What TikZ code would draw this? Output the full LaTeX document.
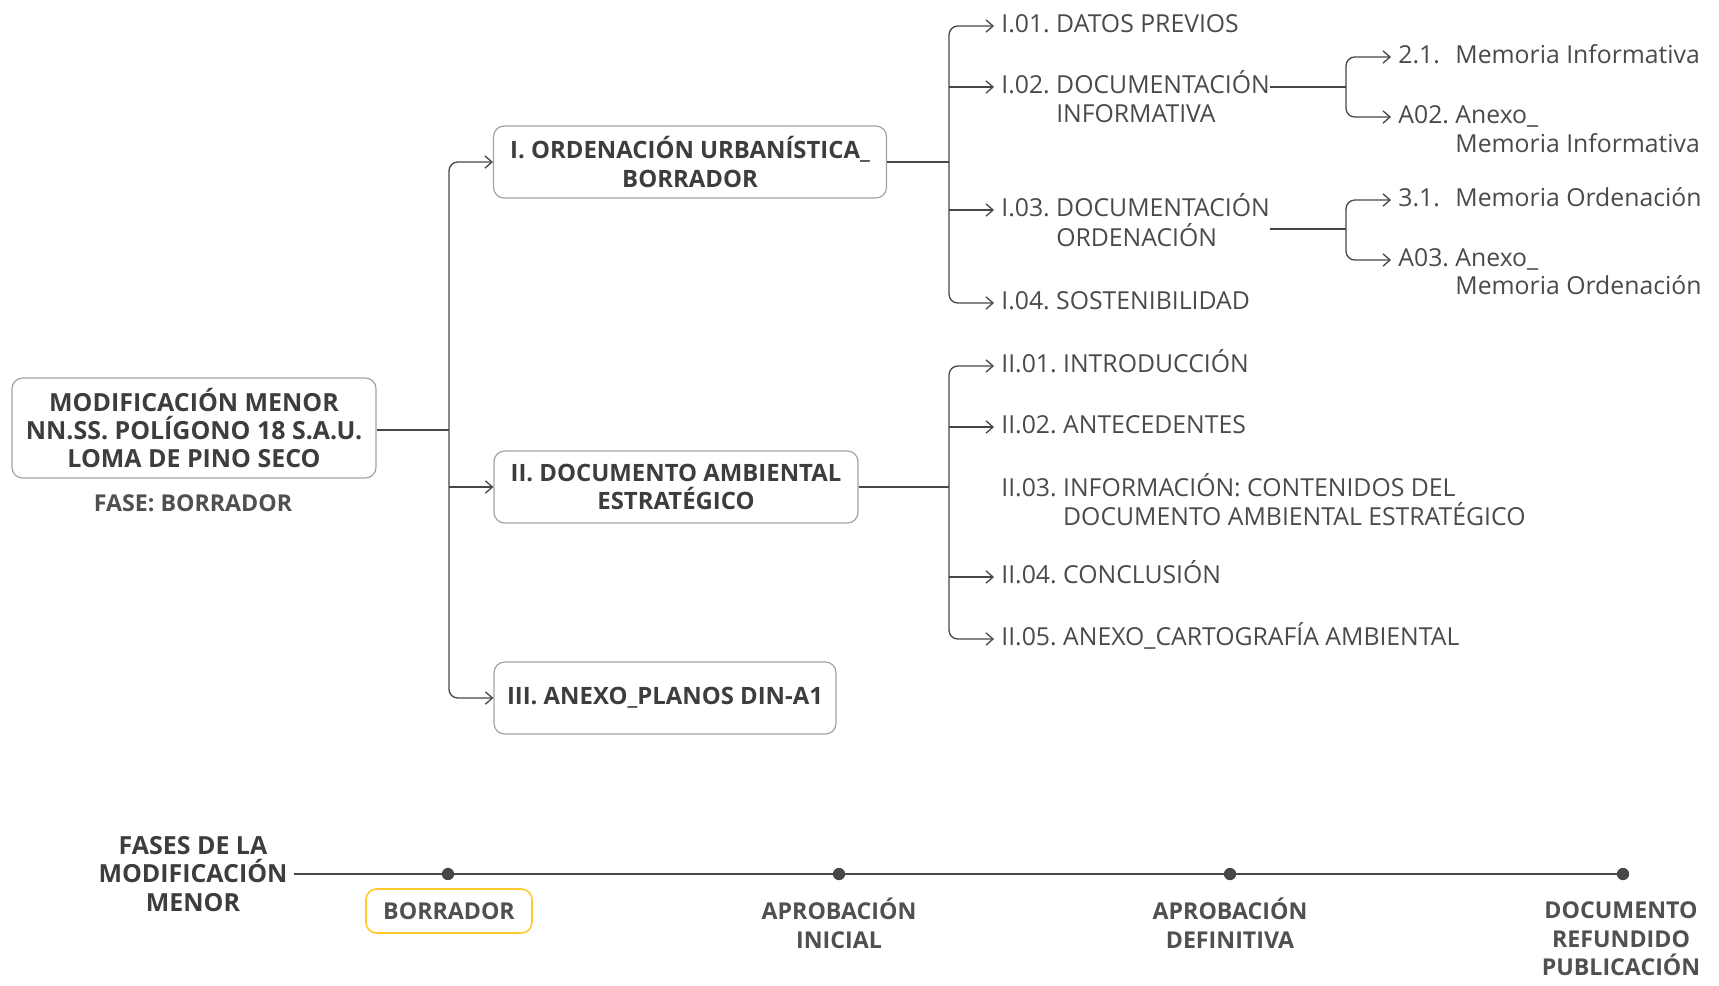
\documentclass[tikz,border=0pt]{standalone}
\usepackage{fontspec}
\setmainfont{Open Sans}
\usetikzlibrary{arrows.meta}
\frenchspacing

\definecolor{inkdark}{HTML}{3D3D3D}
\definecolor{inkleaf}{HTML}{4A4A4A}
\definecolor{wirecol}{HTML}{474747}
\definecolor{framecol}{HTML}{A3A3A3}
\definecolor{phasecol}{HTML}{FFC82C}

\tikzset{
    section box/.style={
        draw=framecol,line width=.7pt,rounded corners=6pt,
        align=center,text=inkdark,
        font=\bfseries\fontsize{13.6}{16}\selectfont,
        minimum height=1.44cm
    },
    leaf/.style={
        anchor=west,inner xsep=4pt,inner ysep=0pt,
        text height=1.33ex,text depth=0pt,
        text=inkleaf,font=\fontsize{14.1}{16}\selectfont
    },
    wire/.style={draw=wirecol,line width=.75pt},
    branch/.style={wire,-{Straight Barb[length=4pt,width=7pt]},rounded corners=5pt},
    milestone/.style={circle,fill=wirecol,inner sep=0pt,minimum size=7pt},
    stage label/.style={
        align=center,text=inkdark!90,
        font=\bfseries\fontsize{13.2}{16.3}\selectfont
    }
}

\begin{document}
\begin{tikzpicture}[x=0.02cm,y=-0.02cm]
    \useasboundingbox (0,0) rectangle (1719,985);

    % document and its three parts
    \node[section box,minimum width=7.28cm,minimum height=2cm,
        font=\bfseries\fontsize{14.2}{16}\selectfont] (root) at (194,428)
        {MODIFICACIÓN MENOR\\NN.SS. POLÍGONO 18 S.A.U.\\LOMA DE PINO SECO};
    \node[stage label] (fase) at (193,503) {FASE: BORRADOR};
    \node[section box,minimum width=7.86cm] (ord) at (690,162) {I. ORDENACIÓN URBANÍSTICA\_\\BORRADOR};
    \node[section box,minimum width=7.28cm] (amb) at (676,487) {II. DOCUMENTO AMBIENTAL\\ESTRATÉGICO};
    \node[section box,minimum width=6.84cm] (pla) at (665,698) {III. ANEXO\_PLANOS DIN-A1};

    \coordinate (trunk) at (449,430);
    \draw[wire] (root.east |- trunk) -- (trunk);
    \draw[branch] (trunk) |- (ord);
    \draw[branch] (trunk |- amb.west) -- (amb);
    \draw[branch] (trunk) |- (pla);

    % I. ordenacion
    \foreach \name/\y/\txt in {l101/26/I.01. DATOS PREVIOS,l102/87/I.02. DOCUMENTACIÓN,
            l103/210/I.03. DOCUMENTACIÓN,l104/303/I.04. SOSTENIBILIDAD}
        \node[leaf] (\name) at (994,\y) {\txt};
    \node[leaf] (l102b) at (994,116) {\phantom{I.02. }INFORMATIVA};
    \node[leaf] (l103b) at (994,240) {\phantom{I.03. }ORDENACIÓN};

    \coordinate (fork1) at (949,162);
    \draw[wire] (ord) -- (fork1);
    \draw[branch] (fork1) |- (l101);
    \draw[branch] (fork1 |- l102.west) -- (l102);
    \draw[branch] (fork1 |- l103.west) -- (l103);
    \draw[branch] (fork1) |- (l104);

    % memorias
    \node[leaf] (m21) at (1391,57) {\rlap{2.1.}\phantom{A02. }Memoria Informativa};
    \node[leaf] (a02) at (1391,117) {A02. Anexo\_};
    \node[leaf] (a02b) at (1391,146) {\phantom{A02. }Memoria Informativa};
    \node[leaf] (m31) at (1391,200) {\rlap{3.1.}\phantom{A03. }Memoria Ordenación};
    \node[leaf] (a03) at (1391,260) {A03. Anexo\_};
    \node[leaf] (a03b) at (1391,288) {\phantom{A03. }Memoria Ordenación};

    \coordinate (fork2) at (1346,87);
    \draw[wire] ([xshift=-4pt]l102.east) -- (fork2);
    \draw[branch] (fork2) |- (m21);
    \draw[branch] (fork2) |- (a02);
    \coordinate (fork3) at (1346,229);
    \draw[wire] ([xshift=-4pt]l103.east |- fork3) -- (fork3);
    \draw[branch] (fork3) |- (m31);
    \draw[branch] (fork3) |- (a03);

    % II. documento ambiental
    \foreach \name/\y/\txt in {l201/366/II.01. INTRODUCCIÓN,l202/427/II.02. ANTECEDENTES,
            l203/490/II.03. INFORMACIÓN: CONTENIDOS DEL,l204/577/II.04. CONCLUSIÓN,
            l205/639/II.05. ANEXO\_CARTOGRAFÍA AMBIENTAL}
        \node[leaf] (\name) at (994,\y) {\txt};
    \node[leaf] (l203b) at (994,519) {\phantom{II.03. }DOCUMENTO AMBIENTAL ESTRATÉGICO};

    \coordinate (fork4) at (949,487);
    \draw[wire] (amb) -- (fork4);
    \draw[branch] (fork4) |- (l201);
    \draw[branch] (fork4 |- l202.west) -- (l202);
    \draw[branch] (fork4 |- l204.west) -- (l204);
    \draw[branch] (fork4) |- (l205);

    % fases
    \node[align=center,text=inkdark,font=\bfseries\fontsize{14.2}{16.3}\selectfont] (fases) at (193,874)
        {FASES DE LA\\MODIFICACIÓN\\MENOR};
    \foreach \name/\x in {p1/448,p2/839,p3/1230,p4/1623}
        \node[milestone] (\name) at (\x,874) {};
    \draw[wire,line width=1pt] (fases.east |- p1) -- (p4);

    \node[stage label,draw=phasecol,line width=.9pt,rounded corners=6pt,
        minimum width=3.32cm,minimum height=.88cm] (s1) at (449,911) {BORRADOR};
    \node[stage label] (s2) at (839,923) {APROBACIÓN\\INICIAL};
    \node[stage label] (s3) at (1230,923) {APROBACIÓN\\DEFINITIVA};
    \node[stage label] (s4) at (1621,939) {DOCUMENTO\\REFUNDIDO\\PUBLICACIÓN};
\end{tikzpicture}
\end{document}
